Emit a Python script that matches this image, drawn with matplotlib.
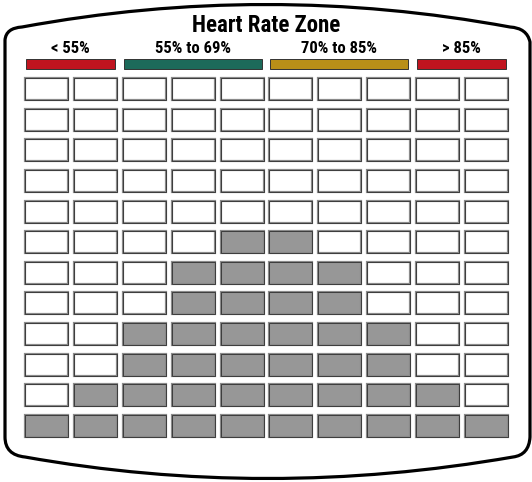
import matplotlib
matplotlib.use('Agg')
import matplotlib.pyplot as plt
from matplotlib.patches import Rectangle, PathPatch
from matplotlib.path import Path

plt.rcParams['font.family'] = ['Roboto Condensed', 'DejaVu Sans']

# stacked counts per column, drawn as filled cells from the bottom up
counts = [1, 2, 4, 6, 7, 7, 6, 4, 2, 1]
n_rows = 12
zone_labels = ['< 55%', '55% to 69%', '70% to 85%', '> 85%']
zone_first = [0, 2, 5, 8]
zone_last = [1, 4, 7, 9]
zone_colors = ['#c0141f', '#1c6a5a', '#b98f18', '#c0141f']
title = 'Heart Rate Zone'

W, H = 532, 482
fig = plt.figure(figsize=(W / 100, H / 100), dpi=100)

# background axes in pixel units for the rounded outline
bg = fig.add_axes([0, 0, 1, 1])
bg.set_xlim(0, W)
bg.set_ylim(H, 0)
bg.axis('off')
verts = [
    (5, 40), (6, 28), (22, 27),
    (266, -18), (510, 27),
    (527, 28), (530, 42),
    (530, 437),
    (529, 455), (513, 457),
    (266, 500), (25, 457),
    (5, 455), (5, 437),
    (5, 40),
]
codes = [Path.MOVETO, Path.CURVE3, Path.CURVE3,
         Path.CURVE3, Path.CURVE3,
         Path.CURVE3, Path.CURVE3,
         Path.LINETO,
         Path.CURVE3, Path.CURVE3,
         Path.CURVE3, Path.CURVE3,
         Path.CURVE3, Path.CURVE3,
         Path.CLOSEPOLY]
bg.add_patch(PathPatch(Path(verts, codes), facecolor='white',
                       edgecolor='black', lw=2.3))
bg.text(W / 2, 25, title, ha='center', va='center',
        fontsize=16.5, fontweight='bold')

# grid of cells
left, right = 22, 511
bottom, top = 441, 74
ax = fig.add_axes([left / W, 1 - bottom / H, (right - left) / W, (bottom - top) / H])
ax.set_xlim(-0.5, len(counts) - 0.5)
ax.set_ylim(-0.5, n_rows - 0.5)
ax.axis('off')

cw, ch = 0.88, 0.72
for col, n in enumerate(counts):
    for row in range(n_rows):
        filled = row < n
        ax.add_patch(Rectangle((col - cw / 2, row - ch / 2), cw, ch,
                               facecolor='#979797' if filled else 'white',
                               edgecolor='#8a8a8a', lw=1.6))
        ax.add_patch(Rectangle((col - cw / 2, row - ch / 2), cw, ch,
                               facecolor='none',
                               edgecolor='#3c3c3c', lw=0.7))

# zone bars and labels above the grid
for lab, a, b, c in zip(zone_labels, zone_first, zone_last, zone_colors):
    x0 = a - 0.42
    x1 = b + 0.40
    ax.add_patch(Rectangle((x0, 11.66), x1 - x0, 0.32, facecolor=c,
                           edgecolor='#333333', lw=0.7, clip_on=False))
    ax.text((x0 + x1) / 2, 12.35, lab, ha='center', va='center',
            fontsize=12, fontweight='bold', clip_on=False)

fig.savefig('out.png', dpi=100)
